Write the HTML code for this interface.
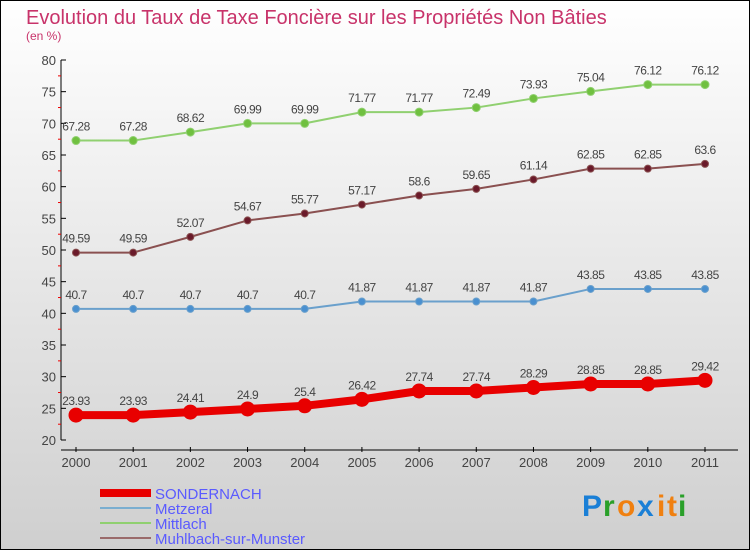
<!DOCTYPE html>
<html><head><meta charset="utf-8"><style>
html,body{margin:0;padding:0}
body{width:750px;height:550px;overflow:hidden}
svg text{font-family:"Liberation Sans",sans-serif}
</style></head><body>
<svg width="750" height="550" xmlns="http://www.w3.org/2000/svg">
<defs><linearGradient id="bg" x1="0" y1="0" x2="0" y2="1"><stop offset="0" stop-color="#ffffff"/><stop offset="1" stop-color="#cfcfcf"/></linearGradient></defs>
<rect x="0.5" y="0.5" width="749" height="549" fill="url(#bg)" stroke="#000"/>
<text x="26" y="24" font-size="20" fill="#c8336a">Evolution du Taux de Taxe Foncière sur les Propriétés Non Bâties</text>
<text x="26" y="40" font-size="12" fill="#c8336a">(en %)</text>
<g id="axes"></g>
<g id="series"></g>
<g id="legend"></g>
<g font-size="30" font-weight="bold">
<text x="582" y="516" fill="#1a7fd6">P</text><text x="603" y="516" fill="#2aa02a">r</text><text x="617" y="516" fill="#f08010">o</text><text x="637" y="516" fill="#1a7fd6">x</text><text x="657" y="516" fill="#f08010">i</text><text x="667" y="516" fill="#f08010">t</text><text x="678" y="516" fill="#2aa02a">i</text>
</g>
</svg>
<script>
const years=["2000","2001","2002","2003","2004","2005","2006","2007","2008","2009","2010","2011"];
const yTicks=[20,25,30,35,40,45,50,55,60,65,70,75,80];
const sondernach=[23.93,23.93,24.41,24.9,25.4,26.42,27.74,27.74,28.29,28.85,28.85,29.42];
const metzeral=[40.7,40.7,40.7,40.7,40.7,41.87,41.87,41.87,41.87,43.85,43.85,43.85];
const mittlach=[67.28,67.28,68.62,69.99,69.99,71.77,71.77,72.49,73.93,75.04,76.12,76.12];
const muhlbach=[49.59,49.59,52.07,54.67,55.77,57.17,58.6,59.65,61.14,62.85,62.85,63.6];
const NS="http://www.w3.org/2000/svg";
const xs=i=>76+i*(705-76)/11;
const ys=v=>440-(v-20)*(380/60);
function mk(tag,attrs,parent,txt){const e=document.createElementNS(NS,tag);for(const k in attrs)e.setAttribute(k,attrs[k]);if(txt!==undefined)e.textContent=txt;parent.appendChild(e);return e;}
const ax=document.getElementById('axes');
let l=mk('line',{x1:61,y1:60,x2:61,y2:440,stroke:'#000'},ax);


yTicks.forEach((t,i)=>{
  const y=ys(t);
  mk('line',{x1:61,y1:y,x2:66,y2:y,stroke:'#000'},ax);
  if(i<yTicks.length-1)mk('line',{x1:58,y1:y-15.8,x2:61,y2:y-15.8,stroke:'#e00'},ax);
  const tx=mk('text',{x:56,y:y+5,'font-size':13,'text-anchor':'end',fill:'#444'},ax,String(t));
  
  
});
l=mk('line',{x1:61,y1:450,x2:738,y2:450,stroke:'#000'},ax);


years.forEach((yr,i)=>{
  mk('line',{x1:xs(i),y1:447,x2:xs(i),y2:452,stroke:'#000'},ax);
  const tx=mk('text',{x:xs(i),y:467,'font-size':13,'text-anchor':'middle',fill:'#444'},ax,yr);
  
  
});
const sg=document.getElementById('series');
function series(vals,color,dot,lw,r,name){
  const g=mk('g',{},sg);
  
  
  mk('polyline',{points:vals.map((v,i)=>xs(i)+','+ys(v)).join(' '),fill:'none',stroke:color,'stroke-width':lw,'stroke-linejoin':'round'},g);
  vals.forEach((v,i)=>{
    const c=mk('circle',{cx:xs(i),cy:ys(v),r:r,fill:dot,stroke:color,'stroke-width':1},g);
    
    
    const t=mk('text',{x:xs(i),y:ys(v)-10,'font-size':12,'text-anchor':'middle',fill:'#444','letter-spacing':'-0.5'},g,String(v));
    
    
  });
}
series(mittlach,'#90d070','#70c040',2,4,'mittlach');
series(muhlbach,'#8a5050','#6a1a2a',2,3.5,'muhlbach');
series(metzeral,'#6aa0cc','#4a90d0',2,3.5,'metzeral');
series(sondernach,'#e80000','#e80000',8,7,'sondernach');
const lg=document.getElementById('legend');
const leg=[["SONDERNACH","#e80000",8],["Metzeral","#7aaed0",2],["Mittlach","#90d070",2],["Muhlbach-sur-Munster","#9a6a6a",2]];
leg.forEach((e,i)=>{
  const y=493+i*15;
  const g=mk('g',{},lg);
  
  
  mk('line',{x1:100,y1:y,x2:151,y2:y,stroke:e[1],'stroke-width':e[2]},g);
  mk('text',{x:155,y:y+6,'font-size':15,fill:'#5a5aff'},g,e[0]);
});
</script>
</body></html>
